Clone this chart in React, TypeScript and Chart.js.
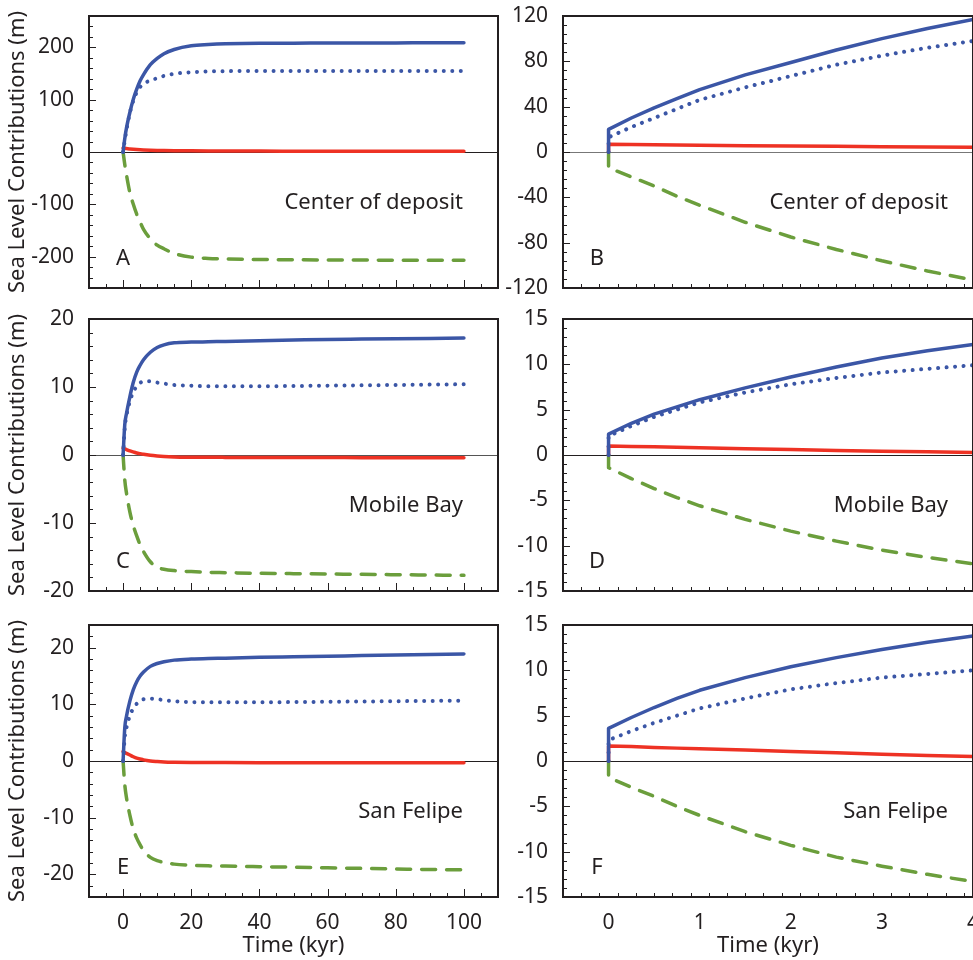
import { useEffect, useRef } from "react";
import { Chart, registerables } from "chart.js";

Chart.register(...registerables);

const FONT = '"Noto Sans", "Open Sans", sans-serif';
const INK = "#231f20";
const BLUE = "#3b56a6";
const RED = "#ee3224";
const GREEN = "#6b9e3c";

const Y_TITLE = "Sea Level Contributions (m)";
const X_TITLE = "Time (kyr)";

// ---------- long-term panels (A, C, E): time in kyr ----------
const timeLong = [0, 0.5, 1, 2, 3, 4, 5, 6, 8, 10, 12, 15, 20, 25, 30, 40, 50, 60, 70, 80, 90, 100];

const totalA = [0, 26, 46, 76, 101, 120, 136, 148, 167, 179, 188, 196, 203, 205.5, 207, 208, 208, 208.5, 208.5, 208.5, 209, 209];
const dottedA = [0, 22, 42, 75, 98, 114, 124, 130, 137, 141, 145.5, 149.5, 152.5, 154, 154.5, 155, 155, 155, 155, 155, 155, 155];
const redA = [7.5, 7, 6.5, 5.8, 5.2, 4.7, 4.3, 4, 3.5, 3.1, 2.8, 2.5, 2.2, 2, 1.9, 1.7, 1.6, 1.5, 1.5, 1.4, 1.4, 1.4];
const greenA = [0, -24, -44, -78, -100, -119, -134, -148, -166, -178, -185, -194, -201, -203.5, -204.5, -205.5, -206, -206.5, -206.5, -207, -207, -207];

const totalC = [0, 4.5, 6.1, 8.6, 10.7, 12.2, 13.2, 14.0, 15.1, 15.8, 16.2, 16.5, 16.6, 16.65, 16.7, 16.8, 16.9, 17.0, 17.05, 17.1, 17.15, 17.2];
const dottedC = [0, 4.0, 5.8, 7.9, 9.3, 10.1, 10.6, 10.85, 10.85, 10.65, 10.5, 10.3, 10.2, 10.1, 10.1, 10.1, 10.15, 10.2, 10.25, 10.3, 10.35, 10.4];
const redC = [1.0, 0.9, 0.8, 0.6, 0.45, 0.3, 0.2, 0.1, -0.05, -0.15, -0.22, -0.28, -0.32, -0.34, -0.35, -0.36, -0.37, -0.38, -0.39, -0.4, -0.4, -0.4];
const greenC = [0, -3.7, -5.6, -8.4, -10.4, -11.9, -13.2, -14.2, -15.7, -16.5, -16.8, -17.0, -17.15, -17.25, -17.3, -17.4, -17.45, -17.5, -17.55, -17.6, -17.65, -17.7];

const totalE = [0, 5.9, 7.9, 10.6, 12.6, 14.0, 15.0, 15.7, 16.7, 17.2, 17.5, 17.8, 18.0, 18.1, 18.15, 18.3, 18.4, 18.5, 18.6, 18.7, 18.8, 18.9];
const dottedE = [0, 4.2, 5.9, 8.0, 9.3, 10.1, 10.6, 10.9, 11.0, 10.9, 10.75, 10.55, 10.4, 10.35, 10.35, 10.35, 10.4, 10.45, 10.5, 10.55, 10.6, 10.65];
const redE = [1.7, 1.5, 1.35, 1.05, 0.75, 0.5, 0.35, 0.2, 0.0, -0.1, -0.17, -0.22, -0.26, -0.27, -0.28, -0.29, -0.3, -0.3, -0.3, -0.3, -0.3, -0.3];
const greenE = [0, -4.2, -6.5, -9.6, -12.0, -13.6, -14.8, -15.8, -17.0, -17.6, -17.9, -18.2, -18.4, -18.5, -18.55, -18.65, -18.75, -18.85, -18.95, -19.05, -19.15, -19.2];

// ---------- short-term panels (B, D, F): time in kyr ----------
const timeShort = [0, 0, 0.25, 0.5, 0.75, 1, 1.5, 2, 2.5, 3, 3.5, 4];

const totalB = [0, 20, 30, 39, 47, 55, 68, 79, 90, 100, 109, 117];
const dottedB = [0, 13, 22, 30, 38, 46, 57, 67, 77, 85, 92, 98];
const redB = [0, 6.8, 6.6, 6.4, 6.2, 6.0, 5.6, 5.3, 5.0, 4.7, 4.4, 4.2];
const greenB = [0, -14, -22, -30, -39, -47, -62, -75, -86, -96, -105, -113];

const totalD = [0, 2.3, 3.5, 4.5, 5.3, 6.1, 7.4, 8.6, 9.7, 10.7, 11.5, 12.2];
const dottedD = [0, 2.1, 3.2, 4.2, 5.0, 5.8, 6.9, 7.8, 8.5, 9.1, 9.5, 9.9];
const redD = [0, 1.0, 0.95, 0.9, 0.85, 0.8, 0.7, 0.6, 0.5, 0.42, 0.35, 0.28];
const greenD = [0, -1.4, -2.6, -3.7, -4.7, -5.6, -7.1, -8.4, -9.5, -10.5, -11.3, -12.0];

const totalF = [0, 3.6, 4.8, 5.9, 6.9, 7.8, 9.2, 10.4, 11.4, 12.3, 13.1, 13.8];
const dottedF = [0, 2.3, 3.3, 4.2, 5.0, 5.8, 6.9, 7.9, 8.6, 9.2, 9.6, 10.0];
const redF = [0, 1.65, 1.6, 1.5, 1.42, 1.35, 1.2, 1.05, 0.9, 0.75, 0.6, 0.5];
const greenF = [0, -1.8, -2.9, -3.9, -5.0, -6.0, -7.8, -9.3, -10.6, -11.6, -12.5, -13.3];

// ---------- axis ticks ----------
const xTicksLong = [0, 20, 40, 60, 80, 100];
const xTicksShort = [0, 1, 2, 3, 4];
const yTicksA = [-200, -100, 0, 100, 200];
const yTicksB = [-120, -80, -40, 0, 40, 80, 120];
const yTicks20 = [-20, -10, 0, 10, 20];
const yTicks15 = [-15, -10, -5, 0, 5, 10, 15];

const letters = ["A", "B", "C", "D", "E", "F"];
const places = ["Center of deposit", "Center of deposit", "Mobile Bay", "Mobile Bay", "San Felipe", "San Felipe"];

type Panel = {
  idx: number;
  col: number;
  row: number;
  x: number[];
  total: number[];
  dotted: number[];
  red: number[];
  green: number[];
  xMin: number;
  xMax: number;
  xMinor: number;
  xTicks: number[];
  yMin: number;
  yMax: number;
  yMinor: number;
  yTicks: number[];
  smooth: boolean;
  zeroColor: string;
};

const PANELS: Panel[] = [
  { idx: 0, col: 0, row: 0, x: timeLong, total: totalA, dotted: dottedA, red: redA, green: greenA, xMin: -10, xMax: 110, xMinor: 5, xTicks: xTicksLong, yMin: -260, yMax: 260, yMinor: 20, yTicks: yTicksA, smooth: true, zeroColor: INK },
  { idx: 1, col: 1, row: 0, x: timeShort, total: totalB, dotted: dottedB, red: redB, green: greenB, xMin: -0.5, xMax: 4, xMinor: 0.2, xTicks: xTicksShort, yMin: -120, yMax: 120, yMinor: 8, yTicks: yTicksB, smooth: false, zeroColor: "#777" },
  { idx: 2, col: 0, row: 1, x: timeLong, total: totalC, dotted: dottedC, red: redC, green: greenC, xMin: -10, xMax: 110, xMinor: 5, xTicks: xTicksLong, yMin: -20, yMax: 20, yMinor: 2, yTicks: yTicks20, smooth: true, zeroColor: "#555" },
  { idx: 3, col: 1, row: 1, x: timeShort, total: totalD, dotted: dottedD, red: redD, green: greenD, xMin: -0.5, xMax: 4, xMinor: 0.2, xTicks: xTicksShort, yMin: -15, yMax: 15, yMinor: 1, yTicks: yTicks15, smooth: false, zeroColor: INK },
  { idx: 4, col: 0, row: 2, x: timeLong, total: totalE, dotted: dottedE, red: redE, green: greenE, xMin: -10, xMax: 110, xMinor: 5, xTicks: xTicksLong, yMin: -24, yMax: 24, yMinor: 2, yTicks: yTicks20, smooth: true, zeroColor: INK },
  { idx: 5, col: 1, row: 2, x: timeShort, total: totalF, dotted: dottedF, red: redF, green: greenF, xMin: -0.5, xMax: 4, xMinor: 0.2, xTicks: xTicksShort, yMin: -15, yMax: 15, yMinor: 1, yTicks: yTicks15, smooth: false, zeroColor: INK },
];

// layout (pixels)
const COLS = [
  { left: 0, width: 505, yAxisW: 89, padRight: 7, placeInset: 35, showTitle: true },
  { left: 505, width: 468, yAxisW: 58, padRight: 0, placeInset: 25, showTitle: false },
];
const ROWS = [
  { top: 0, height: 300, padTop: 16, xAxisH: 12, showX: false },
  { top: 300, height: 305, padTop: 19, xAxisH: 14, showX: false },
  { top: 605, height: 355, padTop: 20, xAxisH: 63, showX: true },
];

const pts = (xs: number[], ys: number[]) => xs.map((x, i) => ({ x, y: ys[i] }));

function zeroPad(s: any) {
  s.paddingLeft = 0;
  s.paddingRight = 0;
  s.paddingTop = 0;
  s.paddingBottom = 0;
}

function makeDecor(panel: Panel) {
  const col = COLS[panel.col];
  return {
    id: "decor" + panel.idx,
    beforeDatasetsDraw(chart: any) {
      const { ctx, chartArea: a, scales } = chart;
      const y0 = Math.round(scales.y.getPixelForValue(0)) + 0.5;
      ctx.save();
      ctx.strokeStyle = panel.zeroColor;
      ctx.lineWidth = 1;
      ctx.beginPath();
      ctx.moveTo(a.left, y0);
      ctx.lineTo(a.right, y0);
      ctx.stroke();
      ctx.restore();
    },
    afterDatasetsDraw(chart: any) {
      const { ctx, chartArea: a, scales } = chart;
      const xs = scales.x;
      const ys = scales.y;
      ctx.save();
      ctx.strokeStyle = INK;
      ctx.lineWidth = 1;
      ctx.beginPath();
      // y ticks (inward from left edge)
      const nY = Math.round((panel.yMax - panel.yMin) / panel.yMinor);
      for (let i = 0; i <= nY; i++) {
        const v = panel.yMin + i * panel.yMinor;
        const major = panel.yTicks.some((t) => Math.abs(t - v) < 1e-6);
        const py = Math.round(ys.getPixelForValue(v)) + 0.5;
        ctx.moveTo(a.left, py);
        ctx.lineTo(a.left + (major ? 7 : 4), py);
      }
      // x ticks (inward from bottom edge)
      const nX = Math.round((panel.xMax - panel.xMin) / panel.xMinor);
      for (let i = 0; i <= nX; i++) {
        const v = panel.xMin + i * panel.xMinor;
        const major = panel.xTicks.some((t) => Math.abs(t - v) < 1e-6);
        const px = Math.round(xs.getPixelForValue(v)) + 0.5;
        ctx.moveTo(px, a.bottom);
        ctx.lineTo(px, a.bottom - (major ? 8 : 4));
      }
      ctx.stroke();
      // frame
      ctx.lineWidth = 2;
      ctx.strokeRect(a.left, a.top, a.right - a.left, a.bottom - a.top);
      // texts
      ctx.fillStyle = INK;
      ctx.font = `22px ${FONT}`;
      ctx.textAlign = "center";
      ctx.textBaseline = "middle";
      ctx.fillText(letters[panel.idx], a.left + 34, a.bottom - 29);
      ctx.textAlign = "right";
      ctx.textBaseline = "alphabetic";
      ctx.fillText(places[panel.idx], a.right - col.placeInset, a.bottom - 79);
      ctx.restore();
    },
  };
}

function PanelChart({ panel }: { panel: Panel }) {
  const ref = useRef<HTMLCanvasElement>(null);
  const col = COLS[panel.col];
  const row = ROWS[panel.row];

  useEffect(() => {
    if (!ref.current) return;
    const lineMode = panel.smooth ? "monotone" : "default";
    const base = {
      pointRadius: 0,
      tension: 0,
      cubicInterpolationMode: lineMode,
      fill: false,
      borderCapStyle: "round",
      borderJoinStyle: "round",
    };
    const chart = new Chart(ref.current, {
      type: "line",
      data: {
        datasets: [
          { ...base, data: pts(panel.x, panel.total), borderColor: BLUE, borderWidth: 3.5 },
          { ...base, data: pts(panel.x, panel.dotted), borderColor: BLUE, borderWidth: 4, borderDash: [0.01, 8.5] },
          { ...base, data: pts(panel.x, panel.red), borderColor: RED, borderWidth: 3.5 },
          { ...base, data: pts(panel.x, panel.green), borderColor: GREEN, borderWidth: 3.5, borderDash: [14, 11] },
        ] as any,
      },
      options: {
        animation: false,
        responsive: false,
        events: [],
        layout: { padding: { top: row.padTop, right: col.padRight, bottom: 0, left: 0 } },
        plugins: { legend: { display: false }, tooltip: { enabled: false } },
        scales: {
          x: {
            type: "linear",
            position: "bottom",
            min: panel.xMin,
            max: panel.xMax,
            grid: { display: false },
            border: { display: false },
            ticks: {
              display: row.showX,
              color: INK,
              font: { family: FONT, size: 21 },
              padding: 5,
              autoSkip: false,
              maxRotation: 0,
              callback: (v: any) => String(v),
            },
            afterBuildTicks: (s: any) => {
              s.ticks = panel.xTicks.map((v) => ({ value: v }));
            },
            afterFit: (s: any) => {
              s.height = row.xAxisH;
              zeroPad(s);
            },
            title: {
              display: row.showX,
              text: X_TITLE,
              color: INK,
              font: { family: FONT, size: 22 },
              padding: { top: 0, bottom: 1 },
            },
          },
          y: {
            type: "linear",
            position: "left",
            min: panel.yMin,
            max: panel.yMax,
            grid: { display: false },
            border: { display: false },
            ticks: {
              color: INK,
              font: { family: FONT, size: 21 },
              padding: 7,
              autoSkip: false,
              callback: (v: any) => String(v),
            },
            afterBuildTicks: (s: any) => {
              s.ticks = panel.yTicks.map((v) => ({ value: v }));
            },
            afterFit: (s: any) => {
              s.width = col.yAxisW;
              zeroPad(s);
            },
            title: {
              display: col.showTitle,
              text: Y_TITLE,
              color: INK,
              font: { family: FONT, size: 22 },
              padding: { top: 5, bottom: 0 },
            },
          },
        },
      } as any,
      plugins: [makeDecor(panel)],
    });
    return () => chart.destroy();
  }, [panel]);

  return (
    <canvas
      ref={ref}
      width={col.width}
      height={row.height}
      style={{ position: "absolute", left: col.left, top: row.top, width: col.width, height: row.height }}
    />
  );
}

export default function App() {
  return (
    <div
      style={{
        position: "absolute",
        left: 0,
        top: 0,
        width: 973,
        height: 960,
        background: "#ffffff",
        overflow: "hidden",
      }}
    >
      {PANELS.map((p) => (
        <PanelChart key={p.idx} panel={p} />
      ))}
    </div>
  );
}
